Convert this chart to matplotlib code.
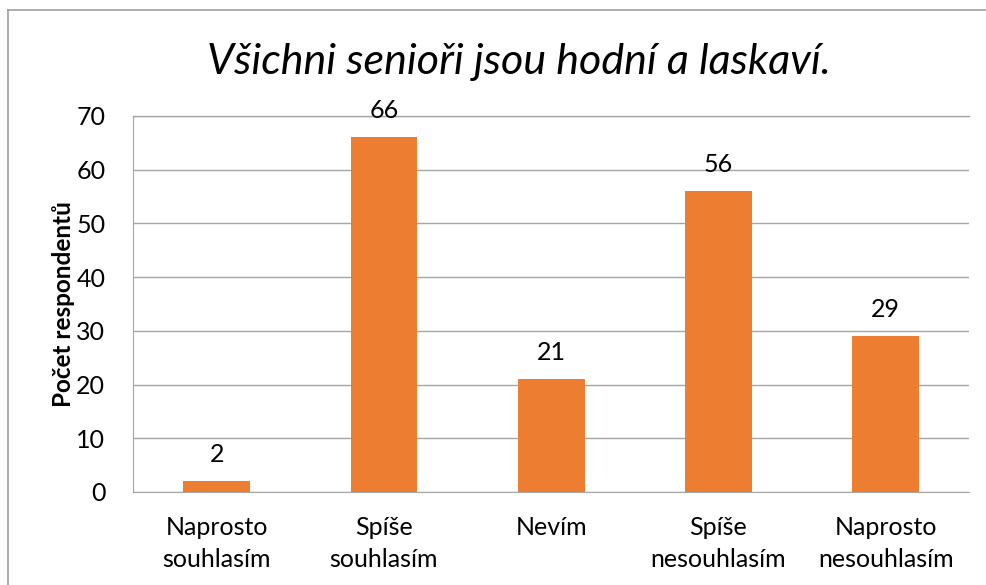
import matplotlib.pyplot as plt
from matplotlib.lines import Line2D

# Data
categories = ["Naprosto\nsouhlasím", "Spíše\nsouhlasím", "Nevím",
              "Spíše\nnesouhlasím", "Naprosto\nnesouhlasím"]
counts = [2, 66, 21, 56, 29]
yticks = [0, 10, 20, 30, 40, 50, 60, 70]

plt.rcParams['font.family'] = ['Lato', 'DejaVu Sans']

fig = plt.figure(figsize=(9.86, 5.85), dpi=100)
ax = fig.add_axes([0.135, 0.159, 0.848, 0.643])

x = range(len(categories))
bars = ax.bar(x, counts, width=0.4, color="#ED7D31", zorder=3)
for b, v in zip(bars, counts):
    ax.text(b.get_x() + b.get_width() / 2, v + 2.8, str(v),
            ha="center", va="bottom", fontsize=18)

ax.set_xlim(-0.5, len(categories) - 0.5)
ax.set_ylim(0, 70)
ax.set_yticks(yticks)
ax.set_xticks(list(x))
ax.set_xticklabels(categories, fontsize=18, linespacing=1.5)
ax.tick_params(axis="y", labelsize=18, length=0, pad=20)
ax.tick_params(axis="x", length=0, pad=17)
ax.yaxis.grid(True, color="#A6A6A6", linewidth=1, zorder=0)

for s in ["top", "right"]:
    ax.spines[s].set_visible(False)
ax.spines["left"].set_color("#A6A6A6")
ax.spines["bottom"].set_color("#A6A6A6")
ax.plot([0, 1], [1, 1], transform=ax.transAxes, color="#A6A6A6", lw=1, clip_on=False)

ax.set_ylabel("Počet respondentů", fontsize=17.5, fontweight="bold", labelpad=1)
fig.text(0.526, 0.894, "Všichni senioři jsou hodní a laskaví.", ha="center",
         va="center", fontsize=31, style="italic")

# outer chart border
fig.add_artist(Line2D([8 / 986, 1], [1 - 10 / 585] * 2, color="#A0A0A0", lw=1.2))
fig.add_artist(Line2D([8 / 986] * 2, [0, 1 - 10 / 585], color="#A0A0A0", lw=1.2))

plt.savefig("out.png", dpi=100)
plt.close()
